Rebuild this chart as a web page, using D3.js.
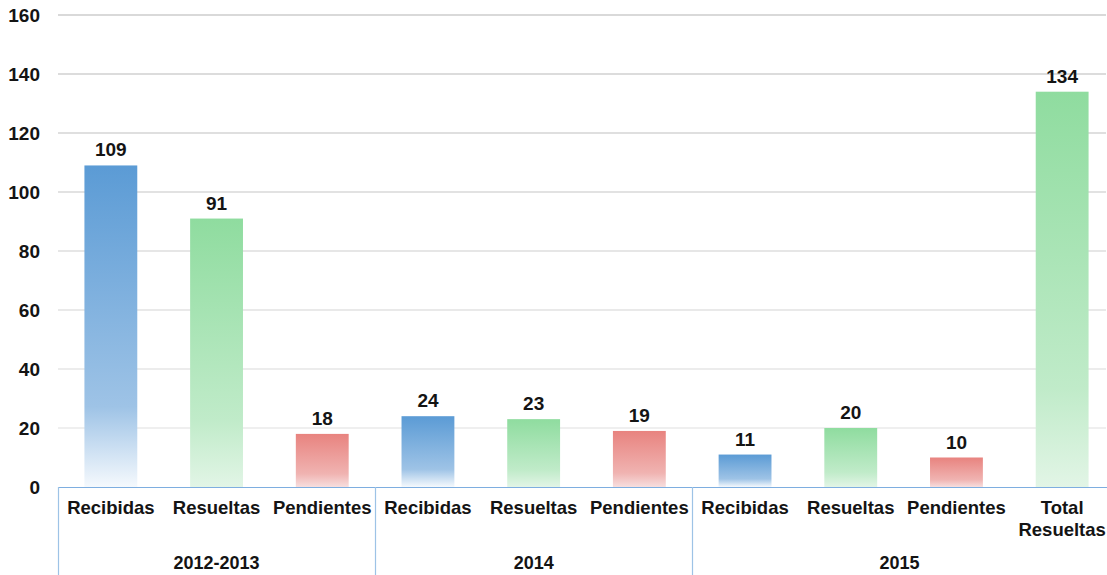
<!DOCTYPE html>
<html>
<head>
<meta charset="utf-8">
<script src="https://cdn.jsdelivr.net/npm/d3@7"></script>
<style>
  body { margin: 0; background: #fff; }
  text { font-family: "Liberation Sans", Arial, sans-serif; font-weight: bold; fill: #141414; }
</style>
</head>
<body>
<svg id="chart" width="1107" height="575"></svg>
<script>
// ---- DATA ----
const groups = ["2012-2013", "2014", "2015"];
const categories = ["Recibidas", "Resueltas", "Pendientes", "Recibidas", "Resueltas", "Pendientes", "Recibidas", "Resueltas", "Pendientes", "Total Resueltas"];
const values = [109, 91, 18, 24, 23, 19, 11, 20, 10, 134];
const groupOf = [0, 0, 0, 1, 1, 1, 2, 2, 2, 2];
const yTicks = [0, 20, 40, 60, 80, 100, 120, 140, 160];

const palette = {
  Recibidas: ["#5b9bd5", "#9ec3e6", "#f5f9fd"],
  Resueltas: ["#8fdc9f", "#c0ebc9", "#e2f5e6"],
  Pendientes: ["#e8837f", "#f0b3b1", "#f7dede"]
};

const svg = d3.select("#chart");
const plotLeft = 58, plotRight = 1115, plotTop = 15, plotBase = 487;

const x = d3.scaleBand()
  .domain(d3.range(categories.length))
  .range([plotLeft, plotRight])
  .paddingInner(0.5)
  .paddingOuter(0.25);

const y = d3.scaleLinear().domain([0, 160]).range([plotBase, plotTop]);

function kind(i) {
  return categories[i].indexOf("Resueltas") >= 0 ? "Resueltas" : categories[i];
}

// gradients
const defs = svg.append("defs");
Object.keys(palette).forEach(k => {
  const g = defs.append("linearGradient")
    .attr("id", "grad-" + k)
    .attr("x1", 0).attr("y1", 0).attr("x2", 0).attr("y2", 1);
  g.append("stop").attr("offset", "0%").attr("stop-color", palette[k][0]);
  g.append("stop").attr("offset", "75%").attr("stop-color", palette[k][1]);
  g.append("stop").attr("offset", "100%").attr("stop-color", palette[k][2]);
});

// ---- GRID ----
const gridColor = d3.scaleLinear().domain([20, 160]).range(["#efefef", "#d9d9d9"]);
svg.append("g").selectAll("line")
  .data(yTicks.filter(d => d > 0))
  .enter().append("line")
  .attr("x1", plotLeft).attr("x2", 1106)
  .attr("y1", d => y(d)).attr("y2", d => y(d))
  .attr("stroke", d => gridColor(d))
  .attr("stroke-width", 2);

svg.append("g").selectAll("text")
  .data(yTicks)
  .enter().append("text")
  .attr("x", 40)
  .attr("y", d => y(d))
  .attr("dy", "0.35em")
  .attr("text-anchor", "end")
  .attr("font-size", "19px")
  .text(d => d);

// ---- BARS ----
svg.append("g").selectAll("rect")
  .data(values)
  .enter().append("rect")
  .attr("x", (d, i) => x(i))
  .attr("width", x.bandwidth())
  .attr("y", d => y(d))
  .attr("height", d => plotBase - y(d))
  .attr("fill", (d, i) => "url(#grad-" + kind(i) + ")");

svg.append("g").selectAll("text")
  .data(values)
  .enter().append("text")
  .attr("x", (d, i) => x(i) + x.bandwidth() / 2)
  .attr("y", d => y(d) - 9)
  .attr("text-anchor", "middle")
  .attr("font-size", "19px")
  .text(d => d);

// ---- CATEGORY AXIS ----
svg.append("line")
  .attr("x1", plotLeft).attr("x2", 1107)
  .attr("y1", plotBase + 0.5).attr("y2", plotBase + 0.5)
  .attr("stroke", "#7eaee0").attr("stroke-width", 1.2);

const step = x.step();
const groupStart = groups.map((g, gi) => plotLeft + groupOf.indexOf(gi) * step);
const groupEnd = groups.map((g, gi) => Math.min(1107, plotLeft + (groupOf.lastIndexOf(gi) + 1) * step));

svg.append("g").selectAll("line")
  .data(groupStart)
  .enter().append("line")
  .attr("x1", d => Math.round(d) + 0.5).attr("x2", d => Math.round(d) + 0.5)
  .attr("y1", plotBase).attr("y2", 575)
  .attr("stroke", "#9dc3e6").attr("stroke-width", 1.2);

const catLabels = svg.append("g").selectAll("text")
  .data(categories)
  .enter().append("text")
  .attr("x", (d, i) => x(i) + x.bandwidth() / 2)
  .attr("y", 514)
  .attr("text-anchor", "middle")
  .attr("font-size", "18.5px");

catLabels.each(function(d) {
  const words = d.split(" ");
  const t = d3.select(this);
  words.forEach((w, k) => {
    t.append("tspan")
      .attr("x", t.attr("x"))
      .attr("dy", k === 0 ? 0 : 22)
      .text(w);
  });
});

svg.append("g").selectAll("text")
  .data(groups)
  .enter().append("text")
  .attr("x", (d, i) => (groupStart[i] + groupEnd[i]) / 2)
  .attr("y", 569)
  .attr("text-anchor", "middle")
  .attr("font-size", "18px")
  .text(d => d);
</script>
</body>
</html>
